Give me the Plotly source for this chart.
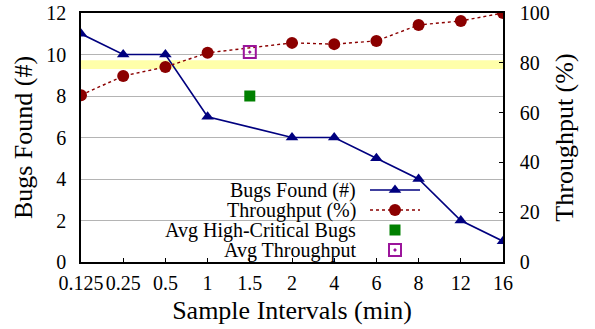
import plotly.graph_objects as go

categories = ["0.125", "0.25", "0.5", "1", "1.5", "2", "4", "6", "8", "12", "16"]
bugs_found = [11, 10, 10, 7, None, 6, 6, 5, 4, 2, 1]
throughput = [67, 74.7, 78.3, 84, None, 88, 87.5, 88.8, 95.2, 96.8, 100]
avg_cat = ["1.5"]
avg_high_critical_bugs = [8]
avg_throughput = [84.3]
band_throughput = [77.5, 81]

FONT = "Liberation Serif"
NAVY = "#00007f"
RED = "#8b0000"
GREEN = "#008000"
PURPLE = "#9b159b"
TICK_SIZE = 20
TITLE_SIZE = 26

W, H = 595, 329
L, R, T, B = 81, 503, 13, 262   # plot-area pixel edges


def px(xpix):
    return (xpix - L) / (R - L)


def py(ypix):
    return (B - ypix) / (B - T)


fig = go.Figure()

fig.add_trace(go.Scatter(x=categories, y=bugs_found, mode="lines+markers", connectgaps=True,
                         line=dict(color=NAVY, width=1.6),
                         marker=dict(symbol="triangle-up", size=11, color=NAVY),
                         name="Bugs Found (#)", showlegend=False))
fig.add_trace(go.Scatter(x=categories, y=throughput, mode="lines+markers", connectgaps=True,
                         yaxis="y2", line=dict(color=RED, width=1.4, dash="dot"),
                         marker=dict(symbol="circle", size=12, color=RED),
                         name="Throughput (%)", showlegend=False))
fig.add_trace(go.Scatter(x=avg_cat, y=avg_high_critical_bugs, mode="markers",
                         marker=dict(symbol="square", size=11, color=GREEN),
                         name="Avg High-Critical Bugs", showlegend=False))
fig.add_trace(go.Scatter(x=avg_cat, y=avg_throughput, mode="markers", yaxis="y2",
                         marker=dict(symbol="square-open-dot", size=12, color=PURPLE,
                                     line=dict(width=2, color=PURPLE)),
                         name="Avg Throughput", showlegend=False))

# Custom gnuplot-style legend (text right-aligned, key on the right)
legend_labels = ["Bugs Found (#)", "Throughput (%)", "Avg High-Critical Bugs", "Avg Throughput"]
rows = [190, 210, 230, 250]
kx0, kx1, kxm = 370, 420, 395
fig.add_trace(go.Scatter(x=[kx0, kxm, kx1], y=[rows[0]] * 3, xaxis="x3", yaxis="y3",
                         mode="lines", line=dict(color=NAVY, width=1.6), showlegend=False, hoverinfo="skip"))
fig.add_trace(go.Scatter(x=[kxm], y=[rows[0]], xaxis="x3", yaxis="y3", mode="markers",
                         marker=dict(symbol="triangle-up", size=11, color=NAVY), showlegend=False, hoverinfo="skip"))
fig.add_trace(go.Scatter(x=[kx0, kx1], y=[rows[1]] * 2, xaxis="x3", yaxis="y3",
                         mode="lines", line=dict(color=RED, width=1.4, dash="dot"), showlegend=False, hoverinfo="skip"))
fig.add_trace(go.Scatter(x=[kxm], y=[rows[1]], xaxis="x3", yaxis="y3", mode="markers",
                         marker=dict(symbol="circle", size=12, color=RED), showlegend=False, hoverinfo="skip"))
fig.add_trace(go.Scatter(x=[kxm], y=[rows[2]], xaxis="x3", yaxis="y3", mode="markers",
                         marker=dict(symbol="square", size=11, color=GREEN), showlegend=False, hoverinfo="skip"))
fig.add_trace(go.Scatter(x=[kxm], y=[rows[3]], xaxis="x3", yaxis="y3", mode="markers",
                         marker=dict(symbol="square-open-dot", size=12, color=PURPLE,
                                     line=dict(width=2, color=PURPLE)), showlegend=False, hoverinfo="skip"))

annotations = []
for lab, r in zip(legend_labels, rows):
    annotations.append(dict(x=px(358), y=py(r), xref="paper", yref="paper", text=lab, showarrow=False,
                            xanchor="right", yanchor="middle",
                            font=dict(family=FONT, size=TICK_SIZE, color="black")))

shapes = [
    # yellow band
    dict(type="rect", xref="paper", x0=0, x1=1, yref="y2", y0=band_throughput[0], y1=band_throughput[1],
         fillcolor="#ffffaa", line=dict(width=0), layer="between"),
    # opaque legend box
    dict(type="rect", xref="paper", yref="paper", x0=px(93), x1=px(433), y0=py(260.5), y1=py(181),
         fillcolor="white", line=dict(width=0), layer="between"),
]

fig.update_layout(
    width=W, height=H,
    margin=dict(l=L, r=W - R, t=T, b=H - B, autoexpand=False),
    paper_bgcolor="white", plot_bgcolor="white",
    font=dict(family=FONT, size=TICK_SIZE, color="black"),
    showlegend=False,
    xaxis=dict(type="category", categoryorder="array", categoryarray=categories,
               range=[0, 10], showline=True, linecolor="black", linewidth=1.6, mirror=True,
               ticks="inside", ticklen=4, tickcolor="black", showgrid=False, zeroline=False,
               tickangle=0,
               tickfont=dict(family=FONT, size=TICK_SIZE), ticklabelstandoff=2, automargin=False,
               title=dict(text="Sample Intervals (min)", font=dict(family=FONT, size=TITLE_SIZE), standoff=8)),
    yaxis=dict(range=[0, 12], dtick=2, showline=True, linecolor="black", linewidth=1.6,
               ticks="", showgrid=True, gridcolor="#b4b4b4", gridwidth=1, zeroline=False,
               tickfont=dict(family=FONT, size=TICK_SIZE), ticklabelstandoff=9, automargin=False,
               title=dict(text="Bugs Found (#)", font=dict(family=FONT, size=TITLE_SIZE), standoff=6)),
    yaxis2=dict(range=[0, 100], dtick=20, overlaying="y", side="right", showline=True,
                linecolor="black", linewidth=1.6, ticks="inside", ticklen=4, tickcolor="black",
                showgrid=False, zeroline=False, tickfont=dict(family=FONT, size=TICK_SIZE), ticklabelstandoff=11,
                automargin=False,
                title=dict(text="Throughput (%)", font=dict(family=FONT, size=TITLE_SIZE), standoff=6)),
    xaxis3=dict(overlaying="x", range=[L, R], visible=False, fixedrange=True),
    yaxis3=dict(overlaying="y", range=[B, T], visible=False, fixedrange=True),
    annotations=annotations,
    shapes=shapes,
)

fig.write_html("out.html", config={"displayModeBar": False},
               post_script="document.body.style.margin='0';document.body.style.padding='0';")
